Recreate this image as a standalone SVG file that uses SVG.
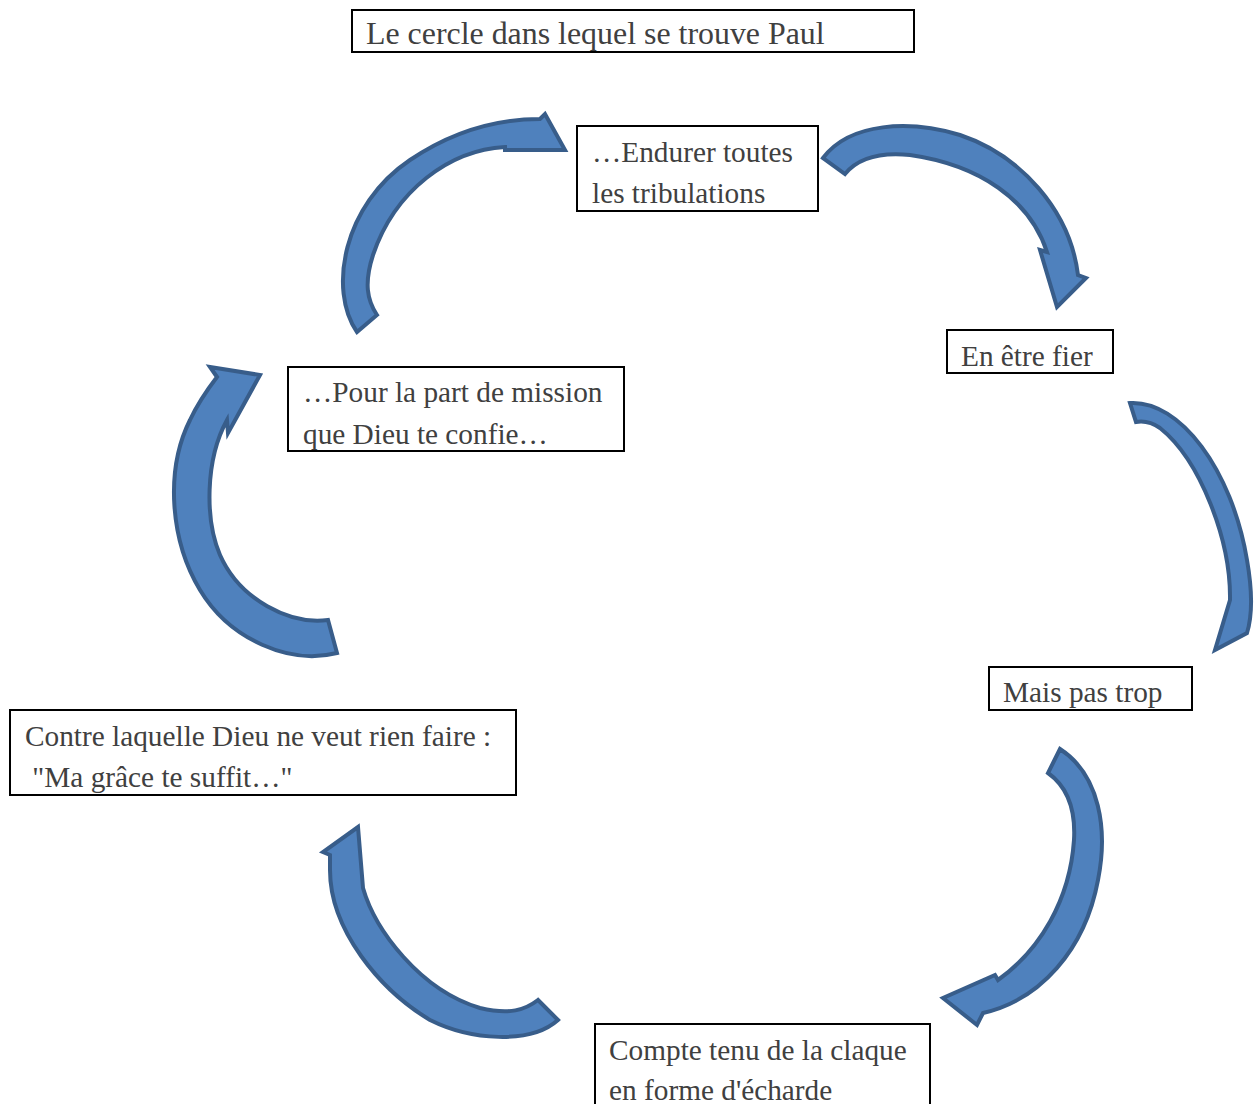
<svg xmlns="http://www.w3.org/2000/svg" width="1255" height="1104" viewBox="0 0 1255 1104">
<style>
.box{fill:#ffffff;stroke:#000000;stroke-width:2}
.t{font-family:"Liberation Serif","Times New Roman",serif;font-size:29.3px;fill:#404040}
.ttl{font-size:31.9px}
.arr{fill:#4F81BD;stroke:#385D8A;stroke-width:4;stroke-linejoin:miter}
</style>
<rect width="1255" height="1104" fill="#ffffff"/>
<g id="connectors">
<path class="arr" d="M357,332 C328,290 343,205 410,160 C450,133 495,119 540,119 L545,114 L565,150 L505,150 L505,147 C450,150 395,190 373,255 C364,283 367,300 377,315 Z"/>
<path class="arr" d="M823,158 C850,122 910,120 960,135 C1020,155 1070,210 1078,275 L1086,278 L1057,307 L1040,250 L1047,252 C1030,200 980,165 910,155 C880,152 858,158 845,174 Z"/>
<path class="arr" d="M1130,403 C1180,400 1232,470 1247,560 C1254,600 1251,620 1247,633 L1215,650 L1230,600 C1231,540 1200,460 1160,428 C1150,421 1142,421 1136,422 Z"/>
<path class="arr" d="M1060,749 C1100,775 1108,830 1098,880 C1085,950 1040,1000 983,1013 L977,1025 L943,998 L995,975 L998,980 C1040,950 1070,900 1074,840 C1076,805 1065,785 1048,773 Z"/>
<path class="arr" d="M330,855 L323,852 L358,827 L363,888 C375,930 420,990 480,1008 C510,1015 525,1010 538,1000 L558,1020 C530,1045 470,1040 430,1020 C380,990 330,930 330,870 Z"/>
<path class="arr" d="M217,377 L210,367 L260,375 L228,433 L227,420 C205,460 205,520 220,555 C240,600 290,625 328,620 L337,653 C290,665 230,640 200,590 C170,540 165,470 190,420 C198,403 207,390 217,377 Z"/>
</g>
<g id="title">
<rect class="box" x="352" y="10" width="562" height="42"/>
<text class="t ttl" x="366" y="44">Le cercle dans lequel se trouve Paul</text>
</g>
<g id="endurer">
<rect class="box" x="577" y="126" width="241" height="85"/>
<text class="t" x="592" y="162">…Endurer toutes</text>
<text class="t" x="592" y="203">les tribulations</text>
</g>
<g id="fier">
<rect class="box" x="947" y="330" width="166" height="43"/>
<text class="t" x="961" y="366">En être fier</text>
</g>
<g id="trop">
<rect class="box" x="989" y="667" width="203" height="43"/>
<text class="t" x="1003" y="702">Mais pas trop</text>
</g>
<g id="mission">
<rect class="box" x="288" y="367" width="336" height="84"/>
<text class="t" x="303" y="402">…Pour la part de mission</text>
<text class="t" x="303" y="444">que Dieu te confie…</text>
</g>
<g id="grace">
<rect class="box" x="10" y="710" width="506" height="85"/>
<text class="t" x="25" y="746">Contre laquelle Dieu ne veut rien faire :</text>
<text class="t" x="25" y="787" xml:space="preserve"> "Ma grâce te suffit…"</text>
</g>
<g id="echarde">
<rect class="box" x="595" y="1024" width="335" height="90"/>
<text class="t" x="609" y="1060">Compte tenu de la claque</text>
<text class="t" x="609" y="1100">en forme d'écharde</text>
</g>
</svg>
